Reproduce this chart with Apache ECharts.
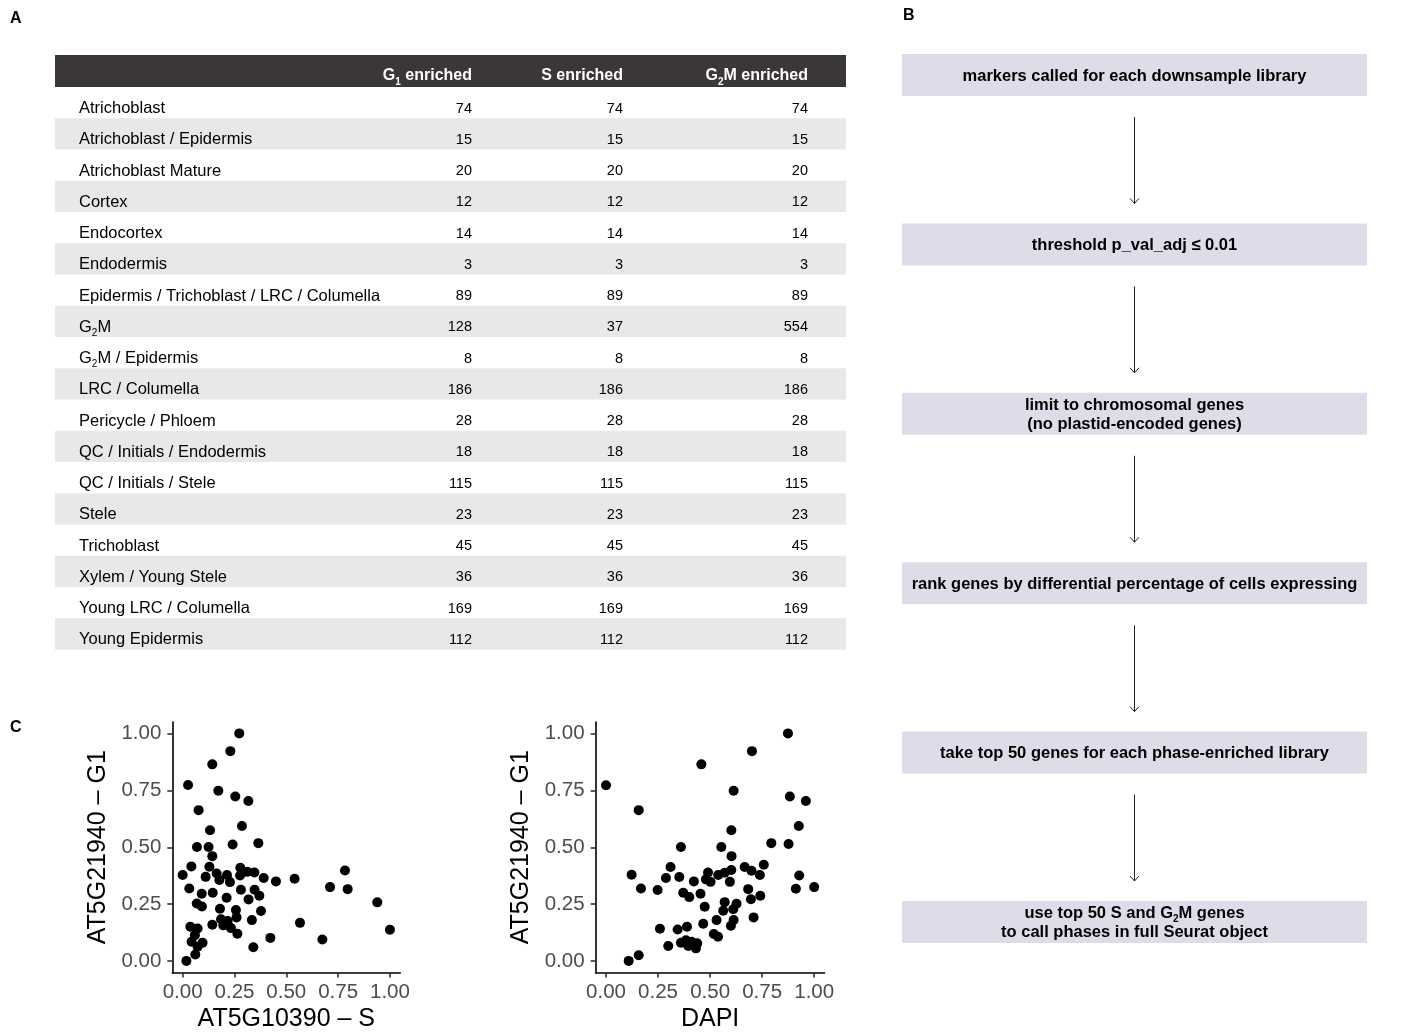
<!DOCTYPE html>
<html>
<head>
<meta charset="utf-8">
<script src="https://cdn.jsdelivr.net/npm/echarts@6/dist/echarts.min.js"></script>
<style>
  html, body { margin: 0; padding: 0; background: #ffffff; }
  #chart { width: 1419px; height: 1034px; }
</style>
</head>
<body>
<div id="chart"></div>
<script>
// ---- Panel A: marker counts per cell type and phase-enriched library ----
const rowNames = [
  'Atrichoblast', 'Atrichoblast / Epidermis', 'Atrichoblast Mature', 'Cortex',
  'Endocortex', 'Endodermis', 'Epidermis / Trichoblast / LRC / Columella', 'G2M',
  'G2M / Epidermis', 'LRC / Columella', 'Pericycle / Phloem', 'QC / Initials / Endodermis',
  'QC / Initials / Stele', 'Stele', 'Trichoblast', 'Xylem / Young Stele',
  'Young LRC / Columella', 'Young Epidermis'
];
const columnHeaders = ['G1 enriched', 'S enriched', 'G2M enriched'];
const g1Counts  = [74, 15, 20, 12, 14, 3, 89, 128, 8, 186, 28, 18, 115, 23, 45, 36, 169, 112];
const sCounts   = [74, 15, 20, 12, 14, 3, 89, 37, 8, 186, 28, 18, 115, 23, 45, 36, 169, 112];
const g2mCounts = [74, 15, 20, 12, 14, 3, 89, 554, 8, 186, 28, 18, 115, 23, 45, 36, 169, 112];

// ---- Panel B: marker selection workflow ----
const workflowSteps = [
  'markers called for each downsample library',
  'threshold p_val_adj \u2264 0.01',
  'limit to chromosomal genes\n(no plastid-encoded genes)',
  'rank genes by differential percentage of cells expressing',
  'take top 50 genes for each phase-enriched library',
  'use top 50 S and G2M genes\nto call phases in full Seurat object'
];

// ---- Panel C: per-cell module scores ----
const scatterTicks = [0, 0.25, 0.5, 0.75, 1];
const sScore = [
  0.273, 0.230, 0.143, 0.026, 0.172, 0.254, 0.317, 0.077, 0.132, 0.286,
  0.069, 0.125, 0.241, 0.365, 0.143, 0.042, 0.129, 0.000, 0.111, 0.164,
  0.177, 0.214, 0.228, 0.278, 0.277, 0.312, 0.346, 0.391, 0.450, 0.540,
  0.783, 0.711, 0.796, 0.032, 0.092, 0.145, 0.212, 0.281, 0.347, 0.370,
  0.318, 0.068, 0.093, 0.180, 0.257, 0.378, 0.939, 0.185, 0.217, 0.260,
  0.334, 0.143, 0.196, 0.233, 0.264, 0.566, 0.037, 0.072, 0.059, 0.043,
  0.096, 0.072, 0.061, 0.018, 0.341, 0.423, 0.674, 1.000
];
const g1ScoreVsS = [
  1.000, 0.922, 0.864, 0.773, 0.748, 0.723, 0.703, 0.663, 0.575, 0.593,
  0.501, 0.501, 0.512, 0.518, 0.461, 0.416, 0.414, 0.378, 0.370, 0.385,
  0.356, 0.378, 0.347, 0.410, 0.376, 0.392, 0.389, 0.365, 0.350, 0.362,
  0.398, 0.325, 0.316, 0.319, 0.296, 0.300, 0.278, 0.313, 0.313, 0.287,
  0.271, 0.253, 0.240, 0.230, 0.224, 0.220, 0.258, 0.184, 0.176, 0.192,
  0.180, 0.160, 0.157, 0.145, 0.120, 0.168, 0.151, 0.143, 0.114, 0.085,
  0.081, 0.063, 0.029, 0.001, 0.061, 0.102, 0.095, 0.138
];
const dapiSignal = [
  0.874, 0.701, 0.458, 0.000, 0.613, 0.883, 0.960, 0.157, 0.602, 0.926,
  0.360, 0.554, 0.794, 0.877, 0.603, 0.310, 0.123, 0.288, 0.352, 0.422,
  0.490, 0.480, 0.502, 0.539, 0.570, 0.602, 0.595, 0.666, 0.699, 0.739,
  0.758, 0.928, 0.168, 0.248, 0.371, 0.400, 0.454, 0.683, 0.741, 0.696,
  0.912, 1.000, 0.474, 0.570, 0.627, 0.563, 0.611, 0.709, 0.259, 0.344,
  0.389, 0.467, 0.531, 0.600, 0.613, 0.518, 0.538, 0.360, 0.384, 0.411,
  0.438, 0.395, 0.432, 0.299, 0.109, 0.157
];
const g1ScoreVsDapi = [
  1.000, 0.922, 0.864, 0.772, 0.748, 0.723, 0.703, 0.663, 0.575, 0.593,
  0.501, 0.501, 0.518, 0.514, 0.461, 0.413, 0.379, 0.365, 0.369, 0.350,
  0.389, 0.359, 0.348, 0.378, 0.388, 0.400, 0.348, 0.413, 0.397, 0.378,
  0.423, 0.376, 0.319, 0.312, 0.300, 0.281, 0.296, 0.316, 0.287, 0.272,
  0.318, 0.325, 0.239, 0.259, 0.252, 0.221, 0.228, 0.192, 0.142, 0.139,
  0.151, 0.164, 0.180, 0.155, 0.180, 0.119, 0.107, 0.081, 0.092, 0.085,
  0.078, 0.066, 0.056, 0.066, 0.001, 0.026
];

// ---- layout & style ----
const FONT = '"Liberation Sans", Arial, Helvetica, sans-serif';
const TABLE_LEFT = 55, TABLE_WIDTH = 791, HEADER_TOP = 55, HEADER_H = 32, ROW_H = 31.25;
const labelAnchor = 24 / TABLE_WIDTH;             // row-name indent (fraction of table width)
const columnAnchor = [417 / TABLE_WIDTH, 568 / TABLE_WIDTH, 753 / TABLE_WIDTH]; // right edges of number columns
const SHADE = '#e8e8e8';
const HEADER_FILL = '#3b3738';
const BOX_FILL = '#dfdbe9';

// phase names get a subscript digit (G1, G2M)
function withSubscript(s) {
  return s.replace(/G([12])/g, 'G{sub|$1}');
}
function subRich(size, color, weight) {
  return {
    sub: {
      fontSize: size, fontFamily: FONT, fontWeight: weight || 'normal',
      fill: color, padding: [12, 0, 0, 0]
    }
  };
}

function textEl(x, y, text, align, size, weight, color, lineHeight) {
  return {
    type: 'text',
    style: {
      x: x, y: y, text: text,
      align: align, textAlign: align,
      verticalAlign: 'middle', textVerticalAlign: 'middle',
      fontSize: size, fontFamily: FONT, fontWeight: weight || 'normal',
      fill: color || '#000', lineHeight: lineHeight || Math.round(size * 1.2),
      rich: subRich(Math.round(size * 0.62), color || '#000', weight)
    }
  };
}

// one table row: optional shaded band, the row name and the three counts
function renderTableRow(params, api) {
  const i = params.dataIndex;
  const l = api.coord([0, i]);
  const r = api.coord([1, i]);
  const bandH = api.size([0, 1])[1];
  const y = l[1] + 6;
  const children = [];
  if (i % 2 === 1) {
    children.push({
      type: 'rect',
      shape: { x: l[0], y: l[1] - bandH / 2, width: r[0] - l[0], height: bandH },
      style: { fill: SHADE }
    });
  }
  children.push(textEl(api.coord([labelAnchor, i])[0], y, withSubscript(rowNames[i]), 'left', 16.5));
  [g1Counts, sCounts, g2mCounts].forEach(function (arr, c) {
    children.push(textEl(api.coord([columnAnchor[c], i])[0], y, String(arr[i]), 'right', 14.5, 'normal', '#000'));
  });
  return { type: 'group', children: children };
}

// one workflow box plus the arrow leading to the next step
function renderStep(params, api) {
  const i = params.dataIndex;
  const l = api.coord([0, i]);
  const r = api.coord([1, i]);
  const boxH = 42;
  const mid = (l[0] + r[0]) / 2;
  const children = [
    {
      type: 'rect',
      shape: { x: l[0], y: l[1] - boxH / 2, width: r[0] - l[0], height: boxH },
      style: { fill: BOX_FILL }
    },
    textEl(mid, l[1] + 1, withSubscript(workflowSteps[i]), 'center', 16.5, 'bold', '#000', 19)
  ];
  if (i < workflowSteps.length - 1) {
    const next = api.coord([0, i + 1]);
    const y0 = l[1] + boxH / 2 + 21;
    const y1 = next[1] - boxH / 2 - 20;
    children.push({
      type: 'line',
      shape: { x1: mid, y1: y0, x2: mid, y2: y1 },
      style: { stroke: '#222', lineWidth: 1 }
    });
    children.push({
      type: 'polyline',
      shape: { points: [[mid - 4.5, y1 - 5], [mid, y1], [mid + 4.5, y1 - 5]] },
      style: { stroke: '#222', lineWidth: 1, fill: null }
    });
  }
  return { type: 'group', children: children };
}

function scatterXAxis(gridIndex, name) {
  return {
    gridIndex: gridIndex, type: 'value', min: -0.05, max: 1.05,
    name: name, nameLocation: 'middle', nameGap: 34,
    nameTextStyle: { fontSize: 25, color: '#000', fontFamily: FONT },
    axisLine: { show: true, onZero: false, lineStyle: { color: '#000', width: 1.6 } },
    axisTick: { show: true, customValues: scatterTicks, length: 5, lineStyle: { color: '#333', width: 1.6 } },
    axisLabel: {
      customValues: scatterTicks, margin: 9, color: '#4d4d4d', fontSize: 20.5, fontFamily: FONT,
      formatter: function (v) { return v.toFixed(2); }
    },
    splitLine: { show: false }
  };
}
function scatterYAxis(gridIndex, name) {
  return {
    gridIndex: gridIndex, type: 'value', min: -0.05, max: 1.05,
    name: name, nameLocation: 'middle', nameGap: 62, nameRotate: 90,
    nameTextStyle: { fontSize: 25, color: '#000', fontFamily: FONT },
    axisLine: { show: true, onZero: false, lineStyle: { color: '#000', width: 1.6 } },
    axisTick: { show: true, customValues: scatterTicks, length: 5, lineStyle: { color: '#333', width: 1.6 } },
    axisLabel: {
      customValues: scatterTicks, margin: 11, color: '#4d4d4d', fontSize: 20.5, fontFamily: FONT,
      formatter: function (v) { return v.toFixed(2); }
    },
    splitLine: { show: false }
  };
}
function zipPoints(xs, ys) {
  return xs.map(function (x, i) { return [x, ys[i]]; });
}

const headerX = columnAnchor.map(function (a) { return TABLE_LEFT + a * TABLE_WIDTH; });

const chart = echarts.init(document.getElementById('chart'), null, { renderer: 'canvas' });
chart.setOption({
  animation: false,
  backgroundColor: '#ffffff',
  textStyle: { fontFamily: FONT },
  grid: [
    { left: TABLE_LEFT, top: HEADER_TOP + HEADER_H, width: TABLE_WIDTH, height: ROW_H * rowNames.length, outerBoundsMode: 'none' },
    { left: 902, top: 75, width: 465, height: 847, outerBoundsMode: 'none' },
    { left: 172.3, top: 722, width: 228, height: 250.5, outerBoundsMode: 'none' },
    { left: 595.6, top: 722, width: 229, height: 250.5, outerBoundsMode: 'none' }
  ],
  xAxis: [
    { gridIndex: 0, type: 'value', min: 0, max: 1, show: false },
    { gridIndex: 1, type: 'value', min: 0, max: 1, show: false },
    scatterXAxis(2, 'AT5G10390 \u2013 S'),
    scatterXAxis(3, 'DAPI')
  ],
  yAxis: [
    { gridIndex: 0, type: 'category', data: rowNames, inverse: true, show: false },
    { gridIndex: 1, type: 'category', data: workflowSteps, inverse: true, boundaryGap: false, show: false },
    scatterYAxis(2, 'AT5G21940 \u2013 G1'),
    scatterYAxis(3, 'AT5G21940 \u2013 G1')
  ],
  graphic: [
    { type: 'text', left: 10, top: 11, style: { text: 'A', fontSize: 16, fontWeight: 'bold', fontFamily: FONT, fill: '#000' } },
    { type: 'text', left: 903, top: 8, style: { text: 'B', fontSize: 16, fontWeight: 'bold', fontFamily: FONT, fill: '#000' } },
    { type: 'text', left: 10, top: 720, style: { text: 'C', fontSize: 16, fontWeight: 'bold', fontFamily: FONT, fill: '#000' } },
    {
      type: 'rect', z: 1,
      shape: { x: TABLE_LEFT, y: HEADER_TOP, width: TABLE_WIDTH, height: HEADER_H },
      style: { fill: HEADER_FILL }
    }
  ].concat(columnHeaders.map(function (h, c) {
    return {
      type: 'text', z: 2,
      x: headerX[c], y: HEADER_TOP + HEADER_H / 2 + 5,
      style: {
        text: withSubscript(h), x: 0, y: 0,
        align: 'right', textAlign: 'right', verticalAlign: 'middle', textVerticalAlign: 'middle',
        fontSize: 16, fontWeight: 'bold', fontFamily: FONT, fill: '#ffffff', lineHeight: 19,
        rich: subRich(10, '#ffffff', 'bold')
      }
    };
  })),
  series: [
    {
      type: 'custom', xAxisIndex: 0, yAxisIndex: 0,
      renderItem: renderTableRow,
      data: rowNames.map(function (n, i) { return [0, i]; }),
      silent: true
    },
    {
      type: 'custom', xAxisIndex: 1, yAxisIndex: 1,
      renderItem: renderStep,
      data: workflowSteps.map(function (s, i) { return [0, i]; }),
      silent: true
    },
    {
      type: 'scatter', xAxisIndex: 2, yAxisIndex: 2,
      data: zipPoints(sScore, g1ScoreVsS),
      symbol: 'circle', symbolSize: 10,
      itemStyle: { color: '#000', opacity: 1 }, silent: true
    },
    {
      type: 'scatter', xAxisIndex: 3, yAxisIndex: 3,
      data: zipPoints(dapiSignal, g1ScoreVsDapi),
      symbol: 'circle', symbolSize: 10,
      itemStyle: { color: '#000', opacity: 1 }, silent: true
    }
  ]
});
</script>
</body>
</html>
